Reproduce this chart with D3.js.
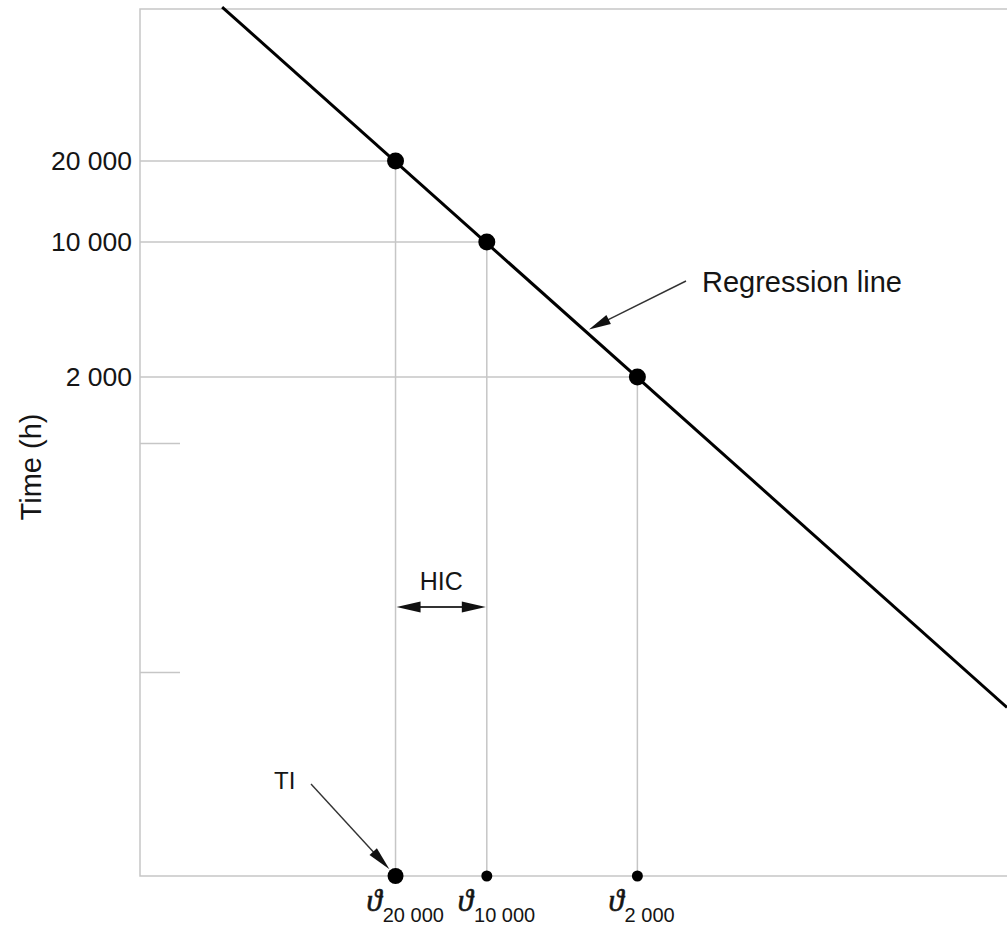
<!DOCTYPE html>
<html>
<head>
<meta charset="utf-8">
<script src="https://cdn.jsdelivr.net/npm/d3@7"></script>
<style>
  html, body { margin: 0; padding: 0; background: #fff; }
  svg { display: block; font-family: "Liberation Sans", Arial, sans-serif; }
</style>
</head>
<body>
<script>
// Thermal endurance graph: time to end-point (log scale, drawn out of scale)
// against ageing temperature, with the regression line and the TI / HIC construction.

// Labelled time levels on the vertical axis (hours)
const timeValues = [20000, 10000, 2000];
const timeLabels = ["20 000", "10 000", "2 000"];
// Unlabelled short ticks further down the time axis (hours)
const minorTimes = [1000, 100];

// Temperatures at which the regression line reaches each labelled time (°C)
const endpointTemps = [155, 165, 181.5];
const endpointSubs = ["20 000", "10 000", "2 000"];

// Regression line end points: temperature (°C) and time (h)
const lineTemps = [136, 222];
const lineHours = [74700, 70];

// Temperature at which the "Regression line" call-out touches the line
const calloutTemp = 175.8;

// ---- layout ----
const W = 1007, H = 927;
const frame = { left: 140, right: 1007, top: 9, bottom: 876 };
const timeStops = [161, 242, 377, 443, 672];   // axis drawn out of scale
const gridColor = "#c6c6c6";
const inkColor = "#151515";

const svg = d3.select("body").append("svg")
  .attr("width", W).attr("height", H)
  .attr("viewBox", `0 0 ${W} ${H}`);

// Scales
const x = d3.scaleLinear().domain([127, 222]).range([frame.left, frame.right]);
const y = d3.scaleLog()
  .domain(timeValues.concat(minorTimes))
  .range(timeStops);

// Frame: top, left and bottom edges
svg.append("path")
  .attr("d", `M${frame.right},${frame.top}H${frame.left}V${frame.bottom}H${frame.right}`)
  .attr("fill", "none").attr("stroke", gridColor).attr("stroke-width", 1.5);

// Time axis labels
const yAxis = svg.append("g")
  .attr("transform", `translate(${frame.left},0)`)
  .call(d3.axisLeft(y).tickValues(timeValues)
    .tickFormat((d, i) => timeLabels[i]).tickSize(0).tickPadding(8));
yAxis.select(".domain").remove();
yAxis.selectAll("text")
  .attr("font-family", "Liberation Sans, Arial, sans-serif")
  .attr("font-size", 26.5).attr("fill", inkColor);

// Short unlabelled ticks pointing into the plot
const minorAxis = svg.append("g")
  .attr("transform", `translate(${frame.left},0)`)
  .call(d3.axisLeft(y).tickValues(minorTimes).tickFormat("").tickSize(-40));
minorAxis.select(".domain").remove();
minorAxis.selectAll("line").attr("stroke", gridColor).attr("stroke-width", 1.5);

// Construction lines: horizontal from the axis to the line, then down to the temperature axis
const pts = endpointTemps.map((t, i) => ({ t, h: timeValues[i], sub: endpointSubs[i] }));
svg.append("g").selectAll("path").data(pts).join("path")
  .attr("d", d => `M${frame.left},${y(d.h)}H${x(d.t)}V${frame.bottom}`)
  .attr("fill", "none").attr("stroke", gridColor).attr("stroke-width", 1.5);

// Regression line
const regPts = lineTemps.map((t, i) => [x(t), y(lineHours[i])]);
svg.append("path")
  .attr("d", d3.line()(regPts))
  .attr("fill", "none").attr("stroke", "#000").attr("stroke-width", 3);

// Points on the regression line
svg.append("g").selectAll("circle").data(pts).join("circle")
  .attr("cx", d => x(d.t)).attr("cy", d => y(d.h)).attr("r", 8.5)
  .attr("fill", "#000");

// Points on the temperature axis (TI is the larger one)
svg.append("g").selectAll("circle").data(pts).join("circle")
  .attr("cx", d => x(d.t)).attr("cy", frame.bottom)
  .attr("r", (d, i) => i === 0 ? 8 : 5.5)
  .attr("fill", "#000");

// Temperature labels ϑ with subscripts
const tl = svg.append("g").selectAll("text").data(pts).join("text")
  .attr("x", d => x(d.t) - 29).attr("y", 911)
  .attr("fill", inkColor);
tl.append("tspan")
  .attr("font-family", "Liberation Serif, DejaVu Serif, serif")
  .attr("font-style", "italic").attr("font-size", 31)
  .attr("stroke", inkColor).attr("stroke-width", 0.6)
  .text("\u03D1");
tl.append("tspan")
  .attr("dy", 11).attr("dx", 1)
  .attr("font-size", 20)
  .text(d => d.sub);

// Arrow helper: filled triangular head at tip, pointing away from "from"
function headPath(tip, from, len, half) {
  const dx = tip[0] - from[0], dy = tip[1] - from[1];
  const d = Math.hypot(dx, dy), ux = dx / d, uy = dy / d;
  const bx = tip[0] - ux * len, by = tip[1] - uy * len;
  return `M${tip[0]},${tip[1]}L${bx - uy * half},${by + ux * half}L${bx + uy * half},${by - ux * half}Z`;
}
function arrow(from, tip, len, half, width) {
  const dx = tip[0] - from[0], dy = tip[1] - from[1];
  const d = Math.hypot(dx, dy);
  const base = [tip[0] - dx / d * (len - 2), tip[1] - dy / d * (len - 2)];
  svg.append("line")
    .attr("x1", from[0]).attr("y1", from[1]).attr("x2", base[0]).attr("y2", base[1])
    .attr("stroke", "#333").attr("stroke-width", width);
  svg.append("path").attr("d", headPath(tip, from, len, half)).attr("fill", "#111");
}

// "Regression line" call-out
const cx0 = x(calloutTemp);
const cy0 = regPts[0][1] + (cx0 - regPts[0][0]) * (regPts[1][1] - regPts[0][1]) / (regPts[1][0] - regPts[0][0]);
const calloutFrom = [686, 281];
{
  const dx = calloutFrom[0] - cx0, dy = calloutFrom[1] - cy0, d = Math.hypot(dx, dy);
  arrow(calloutFrom, [cx0 + dx / d * 4, cy0 + dy / d * 4], 22, 5, 1.4);
}
svg.append("text")
  .attr("x", 702).attr("y", 292)
  .attr("font-size", 29).attr("fill", inkColor)
  .text("Regression line");

// HIC: halving interval between ϑ20 000 and ϑ10 000
const hx1 = x(endpointTemps[0]), hx2 = x(endpointTemps[1]), hy = 607;
svg.append("line")
  .attr("x1", hx1 + 20).attr("x2", hx2 - 20).attr("y1", hy).attr("y2", hy)
  .attr("stroke", "#333").attr("stroke-width", 2);
svg.append("path").attr("d", headPath([hx1 + 1, hy], [hx2, hy], 24, 5.5)).attr("fill", "#111");
svg.append("path").attr("d", headPath([hx2 - 1, hy], [hx1, hy], 24, 5.5)).attr("fill", "#111");
svg.append("text")
  .attr("x", (hx1 + hx2) / 2).attr("y", 590)
  .attr("text-anchor", "middle")
  .attr("font-size", 25).attr("fill", inkColor)
  .text("HIC");

// TI call-out pointing at ϑ20 000 on the temperature axis
const tiFrom = [311, 784];
{
  const c = [x(endpointTemps[0]), frame.bottom];
  const dx = tiFrom[0] - c[0], dy = tiFrom[1] - c[1], d = Math.hypot(dx, dy);
  arrow(tiFrom, [c[0] + dx / d * 9, c[1] + dy / d * 9], 24, 5, 1.4);
}
svg.append("text")
  .attr("x", 274).attr("y", 789)
  .attr("font-size", 24).attr("fill", inkColor)
  .text("TI");

// Vertical axis title
svg.append("text")
  .attr("transform", "translate(41,467) rotate(-90)")
  .attr("text-anchor", "middle")
  .attr("font-size", 29).attr("fill", inkColor)
  .text("Time (h)");
</script>
</body>
</html>
